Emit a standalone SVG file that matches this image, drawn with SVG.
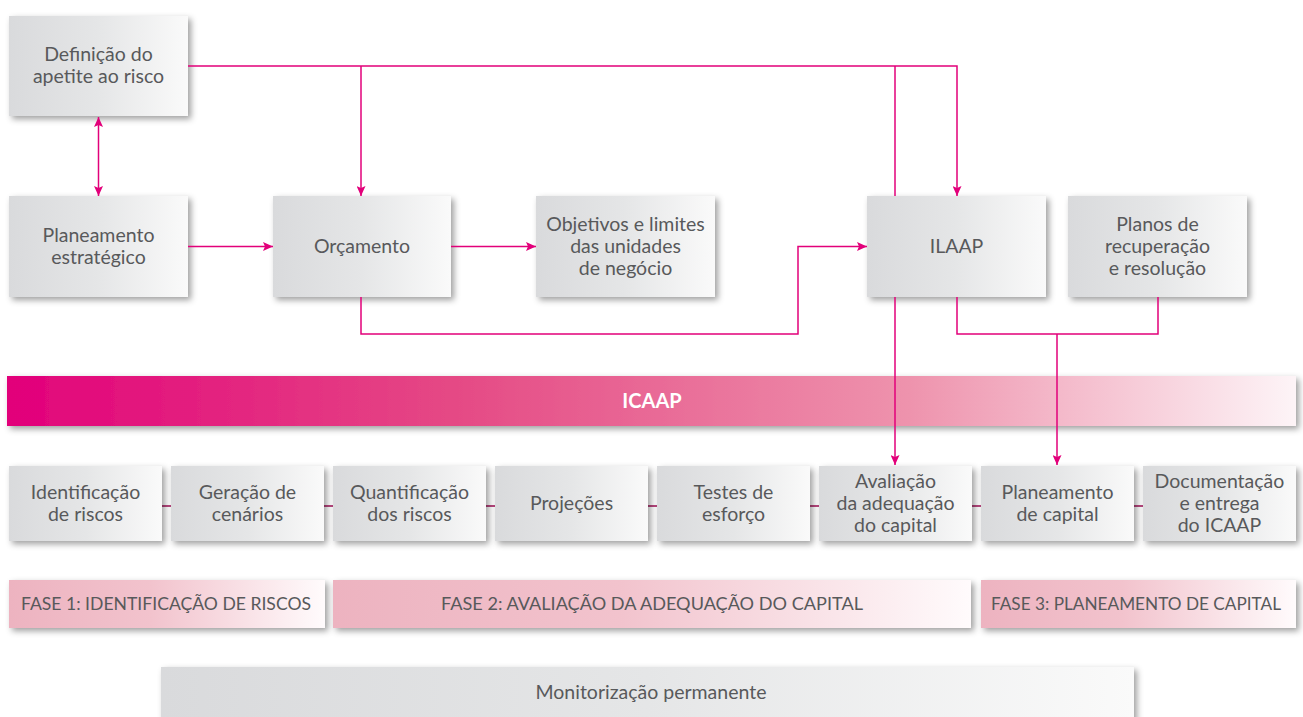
<svg xmlns="http://www.w3.org/2000/svg" width="1303" height="717" viewBox="0 0 1303 717">
<defs>
<linearGradient id="gGray" x1="0" y1="0" x2="1" y2="0">
<stop offset="0" stop-color="#d9dadc"/><stop offset="0.5" stop-color="#e5e6e7"/><stop offset="1" stop-color="#fafafa"/>
</linearGradient>
<linearGradient id="gIcaap" x1="0" y1="0" x2="1" y2="0">
<stop offset="0" stop-color="#e2007a"/><stop offset="0.35" stop-color="#e54a85"/><stop offset="0.7" stop-color="#ee93ad"/><stop offset="1" stop-color="#fdf4f7"/>
</linearGradient>
<linearGradient id="gFase" x1="0" y1="0" x2="1" y2="0">
<stop offset="0" stop-color="#edb3c0"/><stop offset="0.45" stop-color="#f2c3cd"/><stop offset="1" stop-color="#fffbfc"/>
</linearGradient>
<filter id="sh" x="-10%" y="-30%" width="120%" height="170%">
<feDropShadow dx="3" dy="3" stdDeviation="3" flood-color="#000" flood-opacity="0.38"/>
</filter>
<marker id="ah" viewBox="0 0 10 9" markerWidth="10" markerHeight="9" refX="10" refY="4.5" orient="auto-start-reverse" markerUnits="userSpaceOnUse">
<path d="M0,0 L10,4.5 L0,9 L2,4.5 z" fill="#e2007a"/>
</marker>
</defs>
<style>
.box{fill:url(#gGray);filter:url(#sh)}
.fase{fill:url(#gFase);filter:url(#sh)}
.t{font-family:Lato,"Open Sans",sans-serif;font-size:19.5px;fill:#58595b;text-anchor:middle}
.ft{font-family:Lato,"Open Sans",sans-serif;font-size:17.5px;fill:#58595b;text-anchor:middle}
.c{fill:none;stroke:#e2007a;stroke-width:1.5}
.ca{fill:none;stroke:#e2007a;stroke-width:1.5;marker-end:url(#ah)}
</style>
<rect width="1303" height="717" fill="#ffffff"/>

<g id="row-link">
<line x1="9" y1="506" x2="1296" y2="506" stroke="#b8477e" stroke-width="2"/>
</g>

<g id="n-apetite"><rect class="box" x="9" y="16" width="179" height="100"/>
<text class="t" x="98.5" y="61">Definição do</text><text class="t" x="98.5" y="83">apetite ao risco</text></g>
<g id="n-planeamento"><rect class="box" x="9" y="196" width="179" height="101"/>
<text class="t" x="98.5" y="241.5">Planeamento</text><text class="t" x="98.5" y="263.5">estratégico</text></g>
<g id="n-orcamento"><rect class="box" x="273" y="196" width="178" height="101"/>
<text class="t" x="362" y="252.5">Orçamento</text></g>
<g id="n-objetivos"><rect class="box" x="536" y="196" width="179" height="101"/>
<text class="t" x="625.5" y="230.5">Objetivos e limites</text><text class="t" x="625.5" y="252.5">das unidades</text><text class="t" x="625.5" y="274.5">de negócio</text></g>
<g id="n-ilaap"><rect class="box" x="867" y="196" width="179" height="101"/>
<text class="t" x="956.5" y="253">ILAAP</text></g>
<g id="n-planos"><rect class="box" x="1068" y="196" width="179" height="101"/>
<text class="t" x="1157.5" y="230.5">Planos de</text><text class="t" x="1157.5" y="252.5">recuperação</text><text class="t" x="1157.5" y="274.5">e resolução</text></g>

<g id="n-icaap"><rect x="7" y="376" width="1289" height="50" fill="url(#gIcaap)" filter="url(#sh)"/>
<text x="652" y="408" font-family="Lato,'Open Sans',sans-serif" font-size="20" font-weight="bold" fill="#ffffff" text-anchor="middle">ICAAP</text></g>

<g id="n-s1"><rect class="box" x="9" y="466" width="153" height="75"/>
<text class="t" x="85.5" y="498.5">Identificação</text><text class="t" x="85.5" y="520.5">de riscos</text></g>
<g id="n-s2"><rect class="box" x="171" y="466" width="153" height="75"/>
<text class="t" x="247.5" y="498.5">Geração de</text><text class="t" x="247.5" y="520.5">cenários</text></g>
<g id="n-s3"><rect class="box" x="333" y="466" width="153" height="75"/>
<text class="t" x="409.5" y="498.5">Quantificação</text><text class="t" x="409.5" y="520.5">dos riscos</text></g>
<g id="n-s4"><rect class="box" x="495" y="466" width="153" height="75"/>
<text class="t" x="571.5" y="510">Projeções</text></g>
<g id="n-s5"><rect class="box" x="657" y="466" width="153" height="75"/>
<text class="t" x="733.5" y="498.5">Testes de</text><text class="t" x="733.5" y="520.5">esforço</text></g>
<g id="n-s6"><rect class="box" x="819" y="466" width="153" height="75"/>
<text class="t" x="895.5" y="487.5">Avaliação</text><text class="t" x="895.5" y="509.5">da adequação</text><text class="t" x="895.5" y="531.5">do capital</text></g>
<g id="n-s7"><rect class="box" x="981" y="466" width="153" height="75"/>
<text class="t" x="1057.5" y="498.5">Planeamento</text><text class="t" x="1057.5" y="520.5">de capital</text></g>
<g id="n-s8"><rect class="box" x="1143" y="466" width="153" height="75"/>
<text class="t" x="1219.5" y="487.5">Documentação</text><text class="t" x="1219.5" y="509.5">e entrega</text><text class="t" x="1219.5" y="531.5">do ICAAP</text></g>

<g id="n-fase1"><rect class="fase" x="9" y="580" width="316" height="48"/>
<text class="ft" x="166" y="610" textLength="290" lengthAdjust="spacingAndGlyphs">FASE 1: IDENTIFICAÇÃO DE RISCOS</text></g>
<g id="n-fase2"><rect class="fase" x="333" y="580" width="638" height="48"/>
<text class="ft" x="652" y="610" textLength="422" lengthAdjust="spacingAndGlyphs">FASE 2: AVALIAÇÃO DA ADEQUAÇÃO DO CAPITAL</text></g>
<g id="n-fase3"><rect class="fase" x="981" y="580" width="315" height="48"/>
<text class="ft" x="1136" y="610" textLength="290" lengthAdjust="spacingAndGlyphs">FASE 3: PLANEAMENTO DE CAPITAL</text></g>

<g id="n-monit"><rect class="box" x="161" y="667" width="973" height="60"/>
<text class="t" x="651" y="699">Monitorização permanente</text></g>

<g id="connectors">
<path class="ca" d="M188,66 H957 V196"/>
<path class="ca" d="M361,66 V196"/>
<path class="c" d="M895,66 V196"/>
<path class="ca" d="M895,297 V465"/>
<path class="ca" d="M188,246.5 H273"/>
<path class="ca" d="M451,246.5 H536"/>
<path class="ca" d="M361,297 V334 H798 V246.5 H867"/>
<path class="c" d="M957,297 V334 H1158 V297"/>
<path class="ca" d="M1057,334 V465"/>
<path class="ca" d="M98.5,117 V196" marker-start="url(#ah)"/>
</g>
</svg>
